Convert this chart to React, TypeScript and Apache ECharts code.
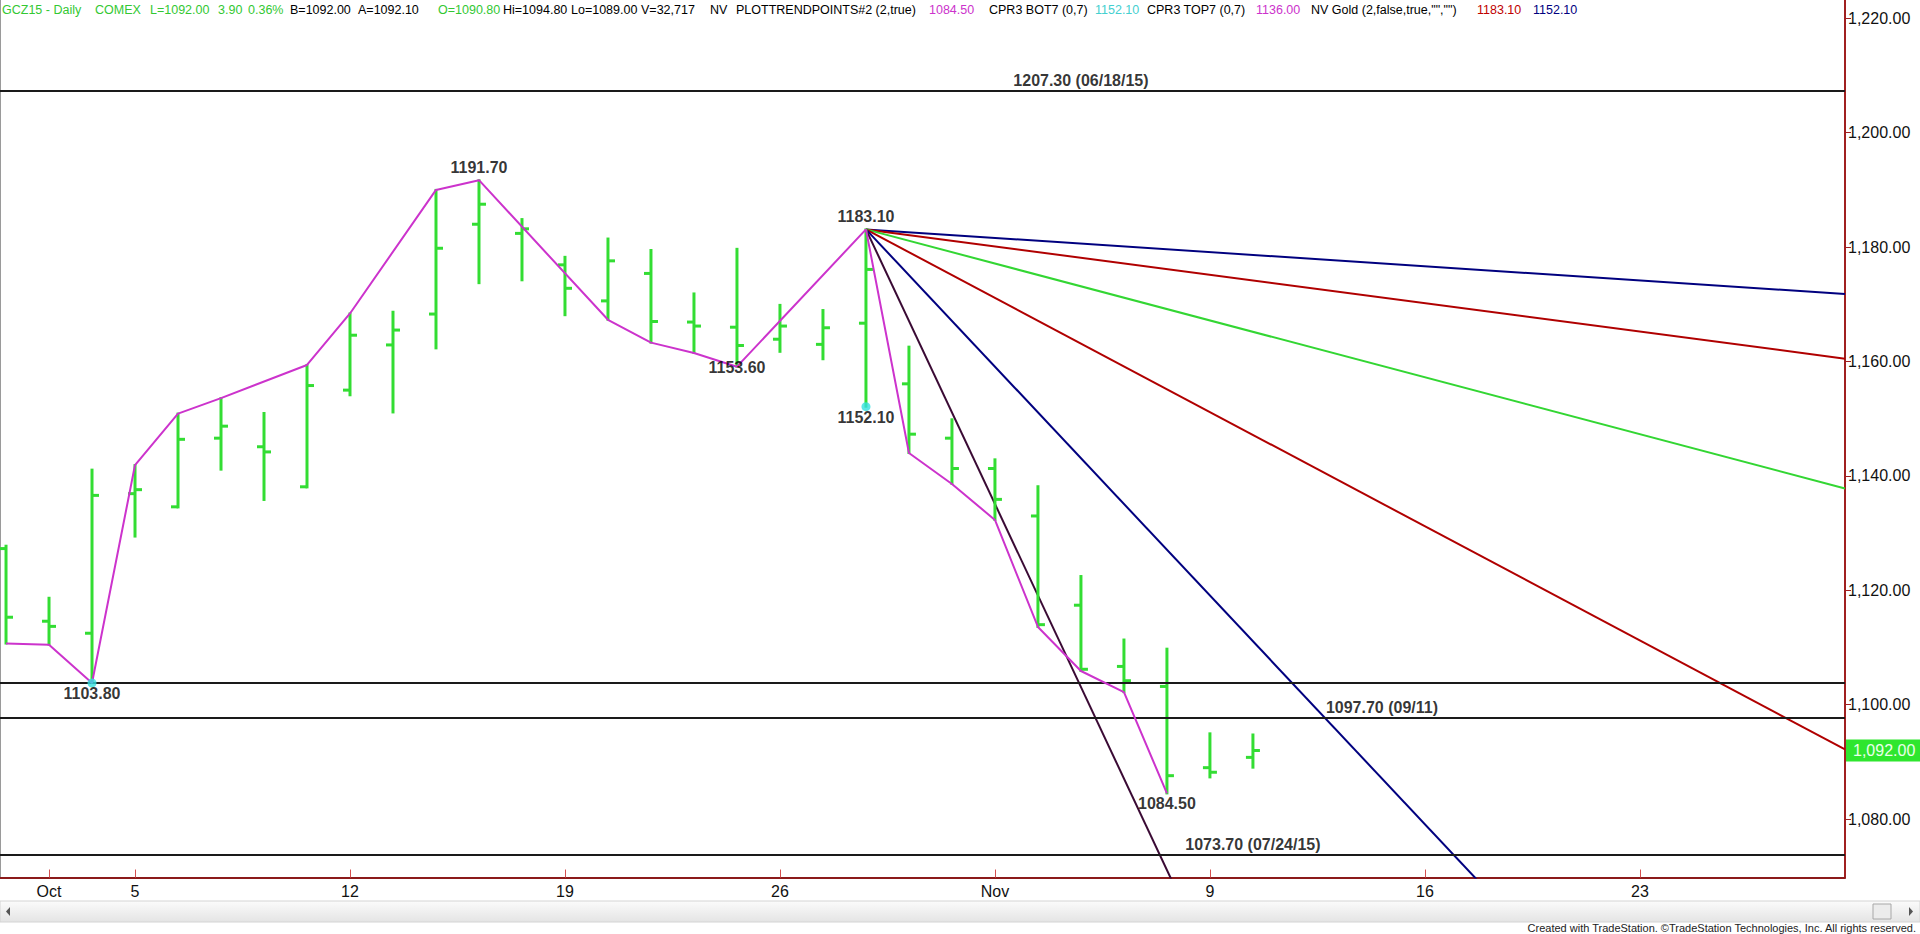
import React, { useEffect, useRef } from "react";
import * as echarts from "echarts";

// ---- Data ----
const dates = [
  "09/30", "10/01", "10/02", "10/05", "10/06", "10/07", "10/08", "10/09",
  "10/12", "10/13", "10/14", "10/15", "10/16", "10/19", "10/20", "10/21",
  "10/22", "10/23", "10/26", "10/27", "10/28", "10/29", "10/30", "11/02",
  "11/03", "11/04", "11/05", "11/06", "11/09", "11/10",
];
const opens = [
  1127.3, 1114.6, 1112.5, 1136.9, 1134.6, 1146.6, 1145.1, 1138.1, 1155.0, 1162.9,
  1168.3, 1184.0, 1182.4, 1176.9, 1170.6, 1175.4, 1166.9, 1166.0, 1163.9, 1163.0,
  1166.7, 1156.1, 1146.6, 1141.3, 1133.0, 1117.4, 1106.7, 1103.2, 1089.0, 1090.8,
];
const highs = [
  1127.8, 1118.7, 1141.1, 1141.9, 1150.9, 1153.6, 1151.0, 1159.4, 1168.4, 1168.7,
  1190.0, 1191.7, 1184.9, 1178.3, 1181.5, 1179.5, 1171.9, 1179.7, 1169.9, 1169.0,
  1183.1, 1162.6, 1149.9, 1142.9, 1138.2, 1122.5, 1111.4, 1109.8, 1095.0, 1094.8,
];
const lows = [
  1110.7, 1110.5, 1103.8, 1129.4, 1134.5, 1141.1, 1135.8, 1138.0, 1154.1, 1151.1,
  1162.3, 1173.7, 1174.2, 1168.1, 1167.3, 1163.3, 1161.5, 1159.1, 1161.7, 1160.4,
  1152.1, 1144.0, 1138.6, 1132.3, 1113.6, 1105.9, 1102.2, 1084.5, 1087.3, 1089.0,
];
const closes = [
  1115.3, 1113.7, 1136.6, 1137.6, 1146.4, 1148.7, 1144.2, 1155.8, 1164.6, 1165.5,
  1179.8, 1187.5, 1183.2, 1172.8, 1177.6, 1167.0, 1166.2, 1162.8, 1166.2, 1165.9,
  1176.1, 1147.3, 1141.3, 1135.9, 1114.0, 1106.2, 1104.2, 1087.6, 1088.2, 1092.0,
];

const xTickIndex = [1, 3, 8, 13, 18, 23, 28, 33, 38];
const xTickLabels = ["Oct", "5", "12", "19", "26", "Nov", "9", "16", "23"];
const yTicks = [1080, 1100, 1120, 1140, 1160, 1180, 1200, 1220];

// trend (zig-zag) points
const trendIdx = [0, 1, 2, 3, 4, 5, 7, 8, 10, 11, 14, 15, 16, 17, 20, 21, 22, 23, 24, 25, 26, 27];
const trendVal = [
  1110.7, 1110.5, 1103.8, 1141.9, 1150.9, 1153.6, 1159.4, 1168.4, 1190.0, 1191.7, 1167.3,
  1163.3, 1161.5, 1159.1, 1183.1, 1144.0, 1138.6, 1132.3, 1113.6, 1105.9, 1102.2, 1084.5,
];

// pivot labels (anchor point, text, placement)
const pivotIdx = [2, 11, 17, 20, 20, 27];
const pivotVal = [1103.8, 1191.7, 1159.1, 1183.1, 1152.1, 1084.5];
const pivotText = ["1103.80", "1191.70", "1153.60", "1183.10", "1152.10", "1084.50"];
const pivotPos = ["bottom", "top", "center", "top", "bottom", "bottom"];

// horizontal levels
const levelVals = [1207.3, 1103.8, 1097.7, 1073.7];
const levelLabelIdx = [25, 32, 29];
const levelLabelVal = [1207.3, 1097.7, 1073.7];
const levelLabelText = ["1207.30 (06/18/15)", "1097.70 (09/11)", "1073.70 (07/24/15)"];

// fan lines from the 1183.10 high
const fanOrigin = [20, 1183.1];
const fanEnds = [
  [42.77, 1171.8],
  [42.77, 1160.5],
  [42.77, 1137.8],
  [42.77, 1092.2],
  [34.2, 1069.5],
  [27.1, 1069.5],
];
const fanColors = ["#00007f", "#b00000", "#33d633", "#b00000", "#00007f", "#3a0a34"];

const cyanIdx = [2, 20];
const cyanVal = [1103.8, 1152.1];

const lastPrice = 1092.0;

const header = [
  { t: "GCZ15 - Daily", c: "#33c833", x: 2 },
  { t: "COMEX", c: "#33c833", x: 95 },
  { t: "L=1092.00", c: "#33c833", x: 150 },
  { t: "3.90", c: "#33c833", x: 218 },
  { t: "0.36%", c: "#33c833", x: 248 },
  { t: "B=1092.00", c: "#000", x: 290 },
  { t: "A=1092.10", c: "#000", x: 358 },
  { t: "O=1090.80", c: "#33c833", x: 438 },
  { t: "Hi=1094.80", c: "#000", x: 503 },
  { t: "Lo=1089.00", c: "#000", x: 571 },
  { t: "V=32,717", c: "#000", x: 641 },
  { t: "NV", c: "#000", x: 710 },
  { t: "PLOTTRENDPOINTS#2 (2,true)", c: "#000", x: 736 },
  { t: "1084.50", c: "#cc33cc", x: 929 },
  { t: "CPR3 BOT7 (0,7)", c: "#000", x: 989 },
  { t: "1152.10", c: "#44d0d0", x: 1095 },
  { t: "CPR3 TOP7 (0,7)", c: "#000", x: 1147 },
  { t: "1136.00", c: "#cc33cc", x: 1256 },
  { t: "NV Gold (2,false,true,\"\",\"\")", c: "#000", x: 1311 },
  { t: "1183.10", c: "#c00000", x: 1477 },
  { t: "1152.10", c: "#00007f", x: 1533 },
];

const FONT = "'Liberation Sans', Arial, sans-serif";
const X_MIN = -0.14;
const X_MAX = 42.77;
const Y_MIN = 1069.8;
const Y_MAX = 1223.2;

export default function App() {
  const ref = useRef<HTMLDivElement>(null);

  useEffect(() => {
    if (!ref.current) return;
    const chart = echarts.init(ref.current, null, { renderer: "svg" });

    const ohlc = dates.map((d, i) => [i, opens[i], highs[i], lows[i], closes[i]]);

    const series: any[] = [];

    // level lines
    series.push({
      type: "line",
      data: [],
      silent: true,
      markLine: {
        symbol: "none",
        silent: true,
        label: { show: false },
        lineStyle: { color: "#1a1a1a", width: 2, type: "solid" },
        data: levelVals.map((v) => ({ yAxis: v })),
      },
      z: 2,
    });

    // fan lines
    fanEnds.forEach((e, k) => {
      series.push({
        type: "line",
        data: [fanOrigin, e],
        symbol: "none",
        lineStyle: { color: fanColors[k], width: 2 },
        silent: true,
        z: 3,
      });
    });

    // OHLC bars
    series.push({
      type: "custom",
      data: ohlc,
      encode: { x: 0, y: [1, 2, 3, 4] },
      z: 4,
      renderItem: (params: any, api: any) => {
        const i = api.value(0);
        const o = api.coord([i, api.value(1)]);
        const h = api.coord([i, api.value(2)]);
        const l = api.coord([i, api.value(3)]);
        const c = api.coord([i, api.value(4)]);
        const style = { stroke: "#33dd33", lineWidth: 3, fill: null };
        return {
          type: "group",
          children: [
            { type: "line", shape: { x1: h[0], y1: h[1] - 1, x2: l[0], y2: l[1] + 1 }, style },
            { type: "line", shape: { x1: o[0] - 7, y1: o[1], x2: o[0], y2: o[1] }, style },
            { type: "line", shape: { x1: c[0], y1: c[1], x2: c[0] + 7, y2: c[1] }, style },
          ],
        };
      },
    });

    // trend zigzag
    series.push({
      type: "line",
      data: trendIdx.map((x, i) => [x, trendVal[i]]),
      symbol: "none",
      lineStyle: { color: "#cc33cc", width: 2 },
      silent: true,
      z: 5,
    });

    // cyan dots
    series.push({
      type: "scatter",
      data: cyanIdx.map((x, i) => [x, cyanVal[i]]),
      symbolSize: 9,
      itemStyle: { color: "#33e0e0" },
      silent: true,
      z: 6,
    });

    // pivot labels
    series.push({
      type: "scatter",
      symbolSize: 1,
      itemStyle: { color: "rgba(0,0,0,0)" },
      silent: true,
      z: 7,
      data: pivotIdx.map((x, i) => {
        const pos = pivotPos[i];
        return {
          value: [x, pivotVal[i]],
          label: {
            show: true,
            position: pos === "center" ? "bottom" : pos,
            distance: pos === "top" ? 4 : 2,
            offset: pos === "center" ? [0, -10] : [0, 0],
            formatter: pivotText[i],
            color: "#000",
            fontFamily: FONT,
            fontWeight: "bold",
            fontSize: 16,
          },
        };
      }),
    });

    // level labels
    series.push({
      type: "scatter",
      symbolSize: 1,
      itemStyle: { color: "rgba(0,0,0,0)" },
      silent: true,
      z: 7,
      data: levelLabelIdx.map((x, i) => ({
        value: [x, levelLabelVal[i]],
        label: {
          show: true,
          position: "top",
          distance: 2,
          formatter: levelLabelText[i],
          color: "#000",
          fontFamily: FONT,
          fontWeight: "bold",
          fontSize: 16,
        },
      })),
    });

    const graphics: any[] = [];
    header.forEach((h) => {
      graphics.push({
        type: "text",
        x: h.x,
        y: 10,
        silent: true,
        style: {
          text: h.t,
          fill: h.c,
          font: `12.5px ${FONT}`,
          verticalAlign: "middle",
          align: "left",
        },
      });
    });
    // left border of the plot
    graphics.push({
      type: "line",
      shape: { x1: 0.5, y1: 0, x2: 0.5, y2: 878 },
      style: { stroke: "#9a9a9a", lineWidth: 1 },
      silent: true,
    });
    // scrollbar
    graphics.push({
      type: "rect",
      shape: { x: 0, y: 901, width: 1920, height: 21 },
      style: {
        fill: new echarts.graphic.LinearGradient(0, 0, 0, 1, [
          { offset: 0, color: "#fbfbfb" },
          { offset: 1, color: "#e4e4e4" },
        ]),
        stroke: "#d4d4d4",
        lineWidth: 1,
      },
      silent: true,
    });
    graphics.push({
      type: "polygon",
      shape: { points: [[10, 907], [10, 916], [6, 911.5]] },
      style: { fill: "#555" },
      silent: true,
    });
    graphics.push({
      type: "polygon",
      shape: { points: [[1909, 907], [1909, 916], [1913, 911.5]] },
      style: { fill: "#555" },
      silent: true,
    });
    graphics.push({
      type: "rect",
      shape: { x: 1873, y: 904, width: 18, height: 15 },
      style: { fill: "#ececec", stroke: "#a8a8a8", lineWidth: 1 },
      silent: true,
    });
    graphics.push({
      type: "text",
      x: 1916,
      y: 928,
      silent: true,
      style: {
        text: "Created with TradeStation. \u00A9TradeStation Technologies, Inc. All rights reserved.",
        fill: "#222",
        font: `11px ${FONT}`,
        align: "right",
        verticalAlign: "middle",
      },
    });

    chart.setOption({
      animation: false,
      backgroundColor: "#ffffff",
      grid: { left: 0, right: 75, top: 0, bottom: 56.5, containLabel: false },
      xAxis: {
        type: "value",
        min: X_MIN,
        max: X_MAX,
        splitLine: { show: false },
        axisLine: { show: true, onZero: false, lineStyle: { color: "#8b1a1a", width: 2 } },
        axisTick: {
          show: true,
          inside: true,
          length: 8,
          customValues: xTickIndex,
          lineStyle: { color: "#d45050", width: 1 },
        },
        axisLabel: {
          show: true,
          customValues: xTickIndex,
          formatter: (v: number) => {
            const k = xTickIndex.indexOf(Math.round(v));
            return k >= 0 ? xTickLabels[k] : "";
          },
          color: "#111",
          fontFamily: FONT,
          fontSize: 16,
          margin: 6,
        },
      },
      yAxis: {
        type: "value",
        position: "right",
        min: Y_MIN,
        max: Y_MAX,
        splitLine: { show: false },
        axisLine: { show: true, onZero: false, lineStyle: { color: "#a02020", width: 2 } },
        axisTick: {
          show: true,
          length: 6,
          customValues: yTicks,
          lineStyle: { color: "#a02020" },
        },
        axisLabel: {
          customValues: yTicks,
          formatter: (v: number) =>
            v.toLocaleString("en-US", { minimumFractionDigits: 2, maximumFractionDigits: 2 }),
          color: "#111",
          fontFamily: FONT,
          fontSize: 16,
          margin: 3,
        },
      },
      series,
      graphic: graphics,
    });

    // last-price marker on the price axis
    const py = chart.convertToPixel({ yAxisIndex: 0 } as any, lastPrice) as number;
    chart.setOption({
      graphic: [
        ...graphics,
        {
          type: "rect",
          shape: { x: 1846, y: py - 11, width: 74, height: 22 },
          style: { fill: "#2ee62e" },
          silent: true,
          z: 100,
        },
        {
          type: "text",
          x: 1853,
          y: py,
          silent: true,
          z: 101,
          style: {
            text: lastPrice.toLocaleString("en-US", { minimumFractionDigits: 2 }),
            fill: "#eaffea",
            font: `16px ${FONT}`,
            verticalAlign: "middle",
            align: "left",
          },
        },
      ],
    });

    return () => chart.dispose();
  }, []);

  return (
    <div
      ref={ref}
      style={{ position: "fixed", left: 0, top: 0, width: 1920, height: 934, background: "#fff" }}
    />
  );
}
